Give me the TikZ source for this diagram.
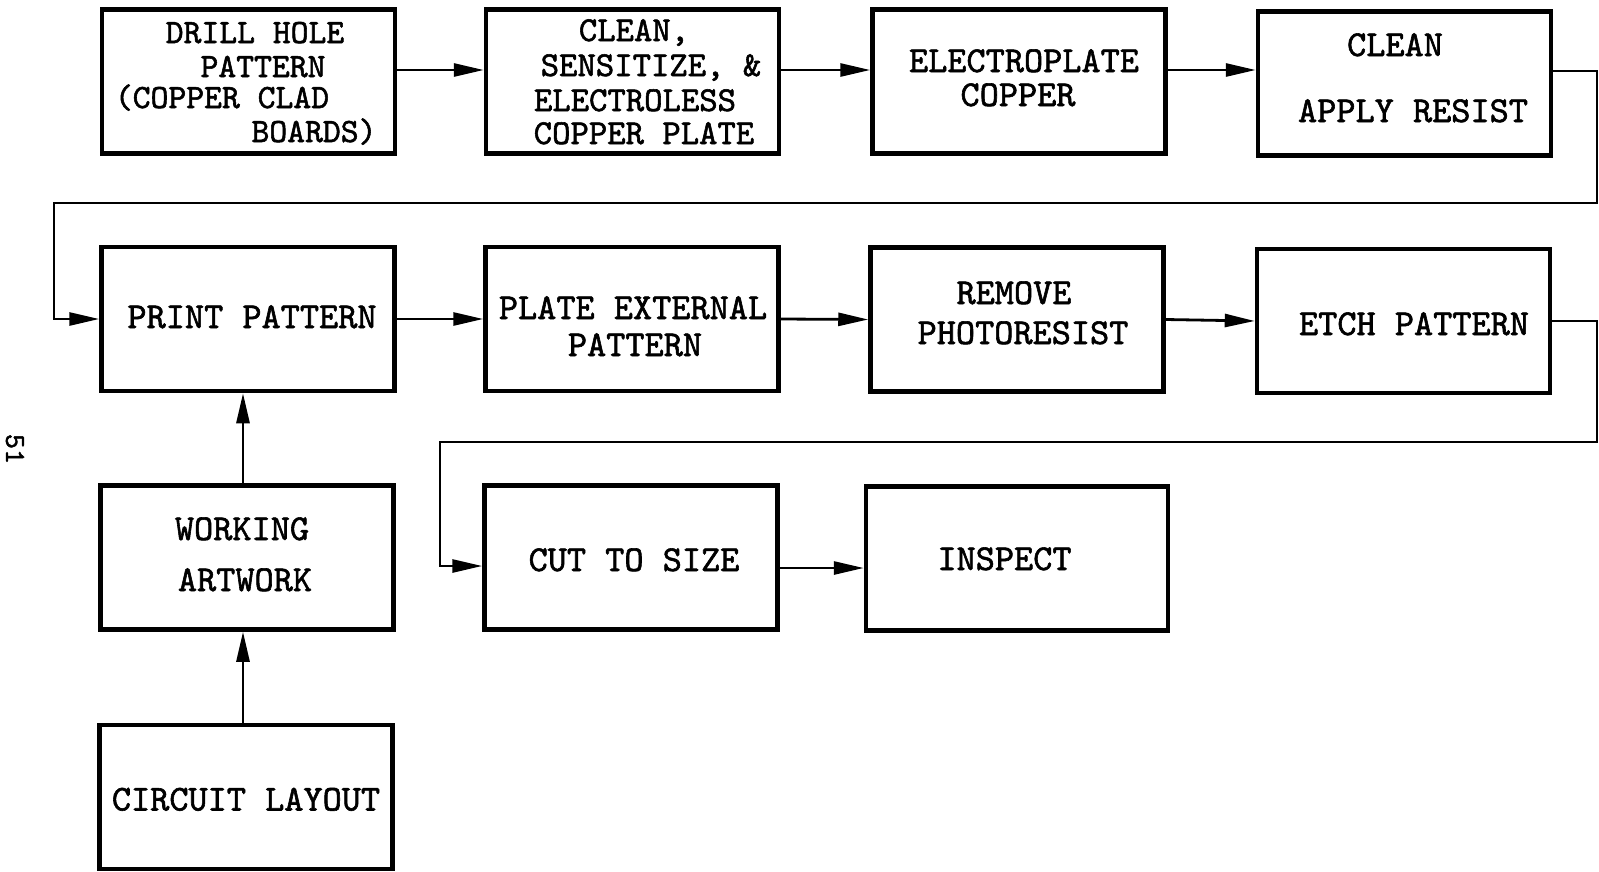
\documentclass[tikz,border=0pt]{standalone}
\usepackage{fontspec}
\newfontfamily\tw{lmmono10-regular.otf}[FakeBold=1.6]
\usetikzlibrary{arrows.meta}
\begin{document}
\begin{tikzpicture}[x=1pt,y=-1pt,
  box/.style={draw, line width=4.5pt, minimum width=293pt, minimum height=144pt, inner sep=0pt},
  txt/.style={font=\tw\fontsize{36.5}{36.5}\selectfont, anchor=base, inner sep=0pt, text height=22pt, text depth=1pt},
  stxt/.style={txt, font=\tw\fontsize{35}{35}\selectfont},
  btxt/.style={txt, font=\tw\fontsize{34}{34}\selectfont},
  arr/.style={line width=2.8pt, -{Triangle[length=30pt,width=13pt]}},
  pagenum/.style={font=\tw\fontsize{29}{29}\selectfont, rotate=-90, inner sep=0pt}]
\useasboundingbox (0,0) rectangle (1599,871);
% boxes
\node[box] (b1) at (248.5,81.5) {};
\node[box] (b2) at (632.5,81.5) {};
\node[box] (b3) at (1019,81.5) {};
\node[box] (b4) at (1404.5,83.5) {};
\node[box] (b5) at (248,319) {};
\node[box] (b6) at (632,319) {};
\node[box] (b7) at (1017,319.5) {};
\node[box] (b8) at (1403.5,321) {};
\node[box] (b10) at (247,557.5) {};
\node[box] (b9) at (631,557.5) {};
\node[box, minimum width=302pt] (b11) at (1017,558.5) {};
\node[box] (b12) at (246,797) {};
% texts
\node[btxt] (t1a) at (255,43) {DRILL HOLE};
\node[btxt] (t1b) at (263,77) {PATTERN};
\node[btxt] (t1c) at (222,108) {(COPPER CLAD};
\node[btxt] (t1d) at (314,142) {BOARDS)};
\node[stxt] (t2a) at (634,41) {CLEAN,};
\node[stxt] (t2b) at (651,76) {SENSITIZE, \&};
\node[stxt] (t2c) at (635,111) {ELECTROLESS};
\node[stxt] (t2d) at (644,144) {COPPER PLATE};
\node[txt] (t3a) at (1024,72) {ELECTROPLATE};
\node[txt] (t3b) at (1018,106) {COPPER};
\node[txt] (t4a) at (1395,56) {CLEAN};
\node[txt] (t4b) at (1413,122) {APPLY RESIST};
\node[txt] (t5) at (252,328) {PRINT PATTERN};
\node[txt] (t6a) at (633,319) {PLATE EXTERNAL};
\node[txt] (t6b) at (635,356) {PATTERN};
\node[txt] (t7a) at (1014,304) {REMOVE};
\node[txt] (t7b) at (1023,344) {PHOTORESIST};
\node[txt] (t8) at (1414,335) {ETCH PATTERN};
\node[txt] (t10a) at (242,540) {WORKING};
\node[txt] (t10b) at (245,591) {ARTWORK};
\node[txt] (t9) at (634,571) {CUT TO SIZE};
\node[txt] (t11) at (1004.5,570) {INSPECT};
\node[txt] (t12) at (246,810.5) {CIRCUIT LAYOUT};
\node[pagenum] (pg) at (15,449) {51};
% helper coordinates
\coordinate (r1) at (0,70);
\coordinate (r1b) at (0,71);
\coordinate (k1) at (1597,203);
\coordinate (k2) at (54,203);
\coordinate (k3) at (1597,442);
\coordinate (k4) at (440,442);
\coordinate (r3) at (0,566);
\coordinate (r3b) at (0,568);
\coordinate (v1) at (243,0);
% connectors
\draw[arr] (b1.east |- r1) -- (b2.west |- r1);
\draw[arr] (b2.east |- r1) -- (b3.west |- r1);
\draw[arr] (b3.east |- r1) -- (b4.west |- r1);
\draw[arr] (b4.east |- r1b) -| (k1) -- (k2) |- (b5.west);
\draw[arr] (b5.east) -- (b6.west);
\draw[arr] (b6.east) -- (b7.west);
\draw[arr] (b7.east) -- (b8.west);
\draw[arr] (b8.east) -| (k3) -- (k4) |- (b9.west |- r3);
\draw[arr] (b9.east |- r3b) -- (b11.west |- r3b);
\draw[arr] (b10.north -| v1) -- (b5.south -| v1);
\draw[arr] (b12.north -| v1) -- (b10.south -| v1);
\end{tikzpicture}
\end{document}
